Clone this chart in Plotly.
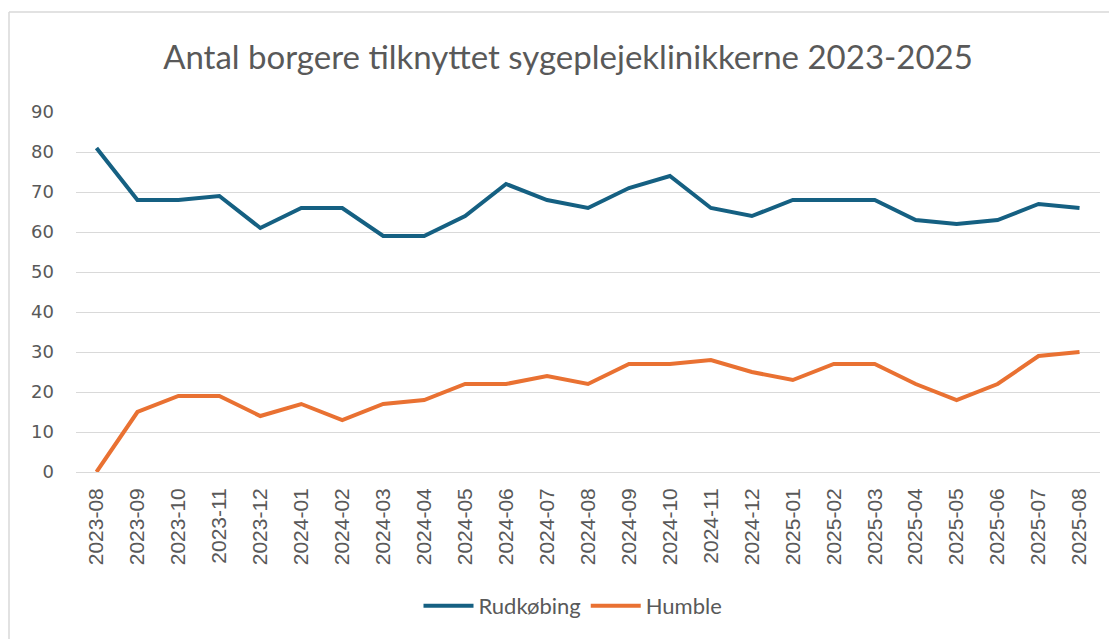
import plotly.graph_objects as go

months = ["2023-08","2023-09","2023-10","2023-11","2023-12","2024-01","2024-02","2024-03",
          "2024-04","2024-05","2024-06","2024-07","2024-08","2024-09","2024-10","2024-11",
          "2024-12","2025-01","2025-02","2025-03","2025-04","2025-05","2025-06","2025-07","2025-08"]
rudkobing = [81,68,68,69,61,66,66,59,59,64,72,68,66,71,74,66,64,68,68,68,63,62,63,67,66]
humble = [0,15,19,19,14,17,13,17,18,22,22,24,22,27,27,28,25,23,27,27,22,18,22,29,30]
y_ticks = [0,10,20,30,40,50,60,70,80,90]

W, H = 1117, 639
OFF = 8  # page body margin
ML, MT = 76 - OFF, 112 - OFF
MR = W - (1100 - OFF)
MB = H - (472 - OFF)
pw, ph = W - ML - MR, H - MT - MB

fig = go.Figure()
fig.add_trace(go.Scatter(x=months, y=rudkobing, mode="lines", name="Rudkøbing",
                         line=dict(color="#156082", width=4)))
fig.add_trace(go.Scatter(x=months, y=humble, mode="lines", name="Humble",
                         line=dict(color="#E97132", width=4)))

grey = "#595959"
fig.update_layout(
    width=W, height=H,
    margin=dict(l=ML, r=MR, t=MT, b=MB, autoexpand=False),
    paper_bgcolor="white", plot_bgcolor="white",
    title=dict(text="Antal borgere tilknyttet sygeplejeklinikkerne 2023-2025",
               x=(568 - OFF) / W, xanchor="center", y=1 - (57 - OFF) / H, yanchor="middle",
               font=dict(family="Lato, Open Sans, sans-serif", size=33, color=grey)),
    xaxis=dict(type="category", range=[-0.5, len(months) - 0.5], tickangle=-90,
               showgrid=False, showline=False, ticks="", ticklabelstandoff=11,
               tickfont=dict(family="Liberation Sans, Arial", size=21, color=grey)),
    yaxis=dict(range=[0, 90], tickvals=y_ticks, showgrid=True, gridcolor="#d9d9d9",
               gridwidth=1, zeroline=True, zerolinecolor="#d9d9d9", zerolinewidth=1,
               showline=False, ticks="", ticklabelstandoff=21,
               tickfont=dict(family="DejaVu Sans", size=18, color=grey)),
    legend=dict(orientation="h", x=(573 - OFF - ML) / pw, xanchor="center",
                y=(472 - 606) / ph, yanchor="middle",
                font=dict(family="Lato, sans-serif", size=22, color=grey),
                itemwidth=50, tracegroupgap=0),
    showlegend=True,
)
# outer chart-area border
x0 = (9 - OFF - ML) / pw
y1 = 1 + (MT - (12 - OFF)) / ph
fig.add_shape(type="line", xref="paper", yref="paper", x0=x0, x1=(W + 5 - ML) / pw, y0=y1, y1=y1,
              line=dict(color="#d9d9d9", width=1.5))
fig.add_shape(type="line", xref="paper", yref="paper", x0=x0, x1=x0, y0=y1, y1=-(MB + 5) / ph,
              line=dict(color="#d9d9d9", width=1.5))

fig.write_html("out.html")
